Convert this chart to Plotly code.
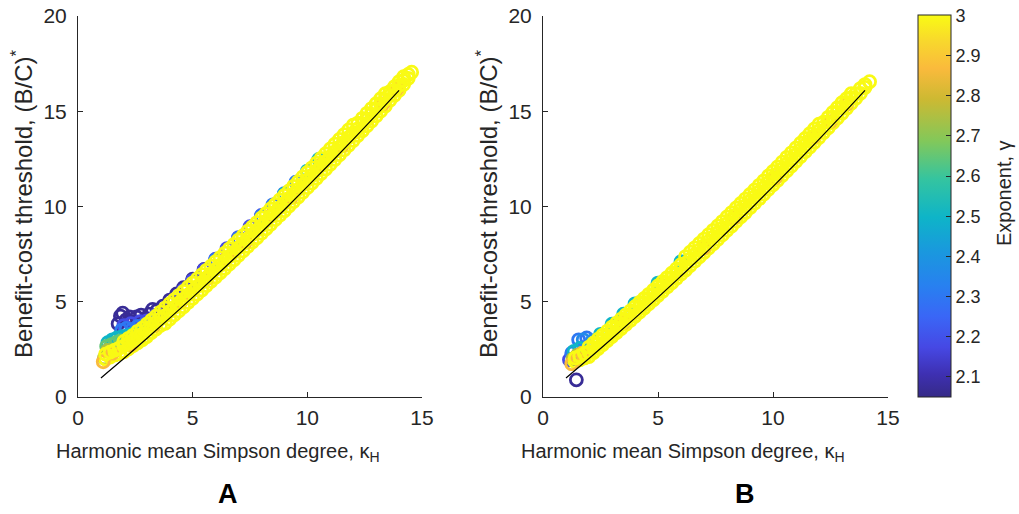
import plotly.graph_objects as go

# ---------------- data ----------------
LINE_X = [1, 2, 3, 4, 5, 6, 7, 8, 9, 10, 11, 12, 13, 14]
LINE_Y = [1.00, 2.02, 3.07, 4.14, 5.23, 6.35, 7.48, 8.65, 9.83, 11.04, 12.27, 13.52, 14.80, 16.10]

# ---- panel A ----
A_PURPLE_X = [1.75, 1.85, 1.95, 2.1, 2.25, 2.4, 2.55, 2.75, 2.95, 3.1, 3.25, 3.45, 3.7, 4.0, 4.3, 4.6, 5.0, 5.5]
A_PURPLE_Y = [3.85, 4.25, 4.4, 4.05, 4.2, 3.95, 4.2, 4.3, 4.1, 4.35, 4.6, 4.55, 4.77, 5.09, 5.41, 5.74, 6.18, 6.7]
A_VIOLET_X = [2.0, 2.3, 2.7, 3.0, 3.4, 3.8, 4.2, 4.6, 5.0, 5.5, 6.0, 6.5, 7.0, 7.5, 8.0]
A_VIOLET_Y = [3.75, 3.85, 3.95, 4.0, 4.3, 4.65, 5.05, 5.62, 6.11, 6.67, 7.23, 7.79, 8.37, 8.94, 9.53]
A_BLUE_X = [1.9, 2.1, 2.35, 2.6, 2.9, 3.2, 3.5, 6.0, 7.0, 8.0, 8.5, 9.0, 9.5]
A_BLUE_Y = [3.5, 3.6, 3.55, 3.7, 3.8, 4.0, 4.25, 7.2, 8.34, 9.5, 10.09, 10.68, 11.28]
A_TEAL_X = [1.3, 1.5, 1.7, 1.9, 2.1, 2.35, 2.6, 9.0, 10.0, 10.5]
A_TEAL_Y = [2.85, 3.0, 3.1, 3.15, 3.2, 3.3, 3.4, 10.65, 11.86, 12.47]
A_GREEN_X = [1.25, 1.45, 1.65, 1.85]
A_GREEN_Y = [2.65, 2.75, 2.85, 2.95]
A_OLIVE_X = [1.15, 1.3]
A_OLIVE_Y = [2.05, 2.45]
A_ORANGE_X = [1.1, 1.5, 2.3, 3.3, 4.5, 5.6, 6.5, 7.3, 8.4, 9.3, 10.6, 11.5, 12.6, 13.3, 13.9]
A_ORANGE_Y = [1.85, 2.3, 2.74, 3.74, 5.03, 6.2, 7.31, 8.13, 9.52, 10.49, 12.18, 13.19, 14.59, 15.39, 16.17]

A_YEL_X = [1.2, 1.4, 1.6, 1.8, 2.0, 2.2, 2.4, 2.6, 2.8, 3.0, 3.2, 3.4, 3.6, 3.8, 4.0, 4.2, 4.4, 4.6, 4.8,
           5.0, 5.2, 5.4, 5.6, 5.8, 6.0, 6.2, 6.4, 6.6, 6.8, 7.0, 7.2, 7.4, 7.6, 7.8, 8.0, 8.2, 8.4, 8.6,
           8.8, 9.0, 9.2, 9.4, 9.6, 9.8, 10.0, 10.2, 10.4, 10.6, 10.8, 11.0, 11.2, 11.4, 11.6, 11.8, 12.0,
           12.2, 12.4, 12.6, 12.8, 13.0, 13.2, 13.4, 13.6, 13.8, 14.0, 14.2, 14.4]
A_YEL_LO = [2.00, 2.10, 2.21, 2.27, 2.37, 2.53, 2.69, 2.85, 3.01, 3.17, 3.38, 3.57, 3.76,
            3.87, 4.09, 4.31, 4.52, 4.74, 4.96, 5.18, 5.40, 5.62, 5.85,
            6.07, 6.30, 6.52, 6.75, 6.98, 7.21, 7.44, 7.67, 7.90, 8.13,
            8.36, 8.60, 8.83, 9.07, 9.31, 9.54, 9.78, 10.02, 10.26, 10.50,
            10.75, 10.99, 11.23, 11.48, 11.73, 11.97, 12.22, 12.47, 12.72, 12.97,
            13.22, 13.47, 13.73, 13.98, 14.24, 14.49, 14.75, 15.01, 15.27, 15.58, 15.84, 16.10, 16.41, 16.73]
A_YEL_MID = [2.25, 2.36, 2.46, 2.57, 2.67, 2.83, 2.99, 3.15, 3.31, 3.52, 3.70, 3.91, 4.11,
             4.27, 4.49, 4.71, 4.92, 5.14, 5.36, 5.58, 5.80, 6.02, 6.25,
             6.47, 6.70, 6.92, 7.15, 7.38, 7.61, 7.84, 8.07, 8.30, 8.53,
             8.76, 9.00, 9.23, 9.47, 9.71, 9.94, 10.18, 10.42, 10.66, 10.90,
             11.15, 11.39, 11.63, 11.88, 12.13, 12.37, 12.62, 12.87, 13.12, 13.37,
             13.62, 13.87, 14.08, 14.33, 14.59, 14.84, 15.10, 15.36, 15.62, 15.83, 16.09, 16.35, 16.61, 16.93]
A_YEL_HI_X = [2.0, 2.2, 2.4, 2.6, 2.8, 3.0, 3.2, 3.4, 3.6, 3.8, 4.0, 4.2, 4.4, 4.6, 4.8,
              5.0, 5.2, 5.4, 5.6, 5.8, 6.0, 6.2, 6.4, 6.6, 6.8, 7.0, 7.2, 7.4, 7.6, 7.8, 8.0, 8.2, 8.4, 8.6,
              8.8, 9.0, 9.2, 9.4, 9.6, 9.8, 10.0, 10.2, 10.4, 10.6, 10.8, 11.0, 11.2, 11.4, 11.6, 11.8, 12.0,
              12.2, 12.4, 12.6, 12.8, 13.0, 13.2, 13.4, 13.6, 13.8, 14.0, 14.2]
A_YEL_HI = [2.92, 3.08, 3.24, 3.45, 3.61, 3.82, 4.03, 4.24, 4.46,
            4.67, 4.89, 5.11, 5.32, 5.54, 5.76, 5.98, 6.20, 6.42, 6.65,
            6.87, 7.10, 7.32, 7.55, 7.78, 8.01, 8.24, 8.47, 8.70, 8.93,
            9.16, 9.40, 9.63, 9.87, 10.11, 10.34, 10.58, 10.82, 11.06, 11.30,
            11.55, 11.79, 12.03, 12.28, 12.53, 12.77, 13.02, 13.27, 13.52, 13.77,
            14.02, 14.27, 14.38, 14.63, 14.89, 15.14, 15.40, 15.66, 15.92, 16.03, 16.29, 16.55, 16.81]
A_YEL_END_X = [14.55]
A_YEL_END_Y = [17.05]

# ---- panel B ----
B_PURPLE_X = [1.45]
B_PURPLE_Y = [0.9]
B_VIOLET_X = [1.15]
B_VIOLET_Y = [1.95]
B_BLUE_X = [1.25, 1.55, 1.9]
B_BLUE_Y = [2.3, 3.0, 3.1]
B_BLUE2_X = [1.75, 2.15]
B_BLUE2_Y = [3.0, 2.95]
B_TEAL_X = [1.35, 1.6, 2.5, 3.0, 3.5, 4.0, 5.0, 6.0]
B_TEAL_Y = [2.4, 2.55, 3.29, 3.82, 4.35, 4.89, 5.98, 7.1]
B_OLIVE_X = [1.3, 1.5]
B_OLIVE_Y = [2.0, 2.2]
B_ORANGE_X = [1.25, 1.45, 1.7, 3.5, 5.2, 7.0, 8.3, 10.1, 11.8, 12.5, 13.2]
B_ORANGE_Y = [1.75, 2.05, 2.3, 3.9, 5.85, 7.84, 9.4, 11.51, 13.67, 14.46, 15.36]

B_YEL_X = [1.4, 1.6, 1.8, 2.0, 2.2, 2.4, 2.6, 2.8, 3.0, 3.2, 3.4, 3.6, 3.8, 4.0, 4.2, 4.4, 4.6, 4.8,
           5.0, 5.2, 5.4, 5.6, 5.8, 6.0, 6.2, 6.4, 6.6, 6.8, 7.0, 7.2, 7.4, 7.6, 7.8, 8.0, 8.2, 8.4, 8.6,
           8.8, 9.0, 9.2, 9.4, 9.6, 9.8, 10.0, 10.2, 10.4, 10.6, 10.8, 11.0, 11.2, 11.4, 11.6, 11.8, 12.0,
           12.2, 12.4, 12.6, 12.8, 13.0, 13.2, 13.4, 13.6, 13.8, 14.0]
B_YEL_LO = [1.85, 1.95, 2.05, 2.12, 2.33, 2.54, 2.75, 2.96, 3.17, 3.38, 3.59, 3.81, 4.02, 4.24, 4.46,
            4.67, 4.89, 5.11, 5.33, 5.55, 5.77, 6.00, 6.22, 6.45,
            6.67, 6.90, 7.13, 7.36, 7.59, 7.82, 8.05, 8.28, 8.51, 8.75, 8.98, 9.22, 9.46, 9.69, 9.93,
            10.17, 10.41, 10.65, 10.90, 11.14, 11.38, 11.63, 11.88, 12.12, 12.37, 12.62, 12.87, 13.12,
            13.37, 13.62, 13.88, 14.13, 14.39, 14.64, 14.90, 15.16, 15.42, 15.68, 15.94, 16.25]
B_YEL_MID = [2.05, 2.15, 2.28, 2.37, 2.58, 2.79, 3.00, 3.21, 3.42, 3.63, 3.84, 4.06, 4.27, 4.49, 4.71,
             4.92, 5.14, 5.36, 5.58, 5.80, 6.02, 6.25, 6.47, 6.70,
             7.02, 7.25, 7.48, 7.71, 7.94, 8.17, 8.40, 8.63, 8.86, 9.10, 9.33, 9.57, 9.81, 10.04, 10.28,
             10.52, 10.76, 11.00, 11.25, 11.49, 11.73, 11.98, 12.23, 12.47, 12.72, 12.97, 13.22, 13.47,
             13.72, 13.97, 14.18, 14.43, 14.69, 14.94, 15.20, 15.46, 15.72, 15.93, 16.19, 16.40]
B_YEL_HI_X = [2.0, 2.2, 2.4, 2.6, 2.8, 3.0, 3.2, 3.4, 3.6, 3.8, 4.0, 4.2, 4.4, 4.6, 4.8,
              5.0, 5.2, 5.4, 5.6, 5.8, 6.0, 6.2, 6.4, 6.6, 6.8, 7.0, 7.2, 7.4, 7.6, 7.8, 8.0, 8.2, 8.4, 8.6,
              8.8, 9.0, 9.2, 9.4, 9.6, 9.8, 10.0, 10.2, 10.4, 10.6, 10.8, 11.0, 11.2, 11.4, 11.6, 11.8, 12.0,
              12.2, 12.4, 12.6, 12.8, 13.0, 13.2, 13.4]
B_YEL_HI = [2.62, 2.83, 3.04, 3.25, 3.46, 3.67, 3.88, 4.09, 4.31, 4.52, 4.74, 4.96, 5.17, 5.39, 5.61,
            5.83, 6.05, 6.27, 6.50, 6.72, 6.95,
            7.37, 7.60, 7.83, 8.06, 8.29, 8.52, 8.75, 8.98, 9.21, 9.45, 9.68, 9.92, 10.16, 10.39, 10.63,
            10.87, 11.11, 11.35, 11.60, 11.84, 12.08, 12.33, 12.58, 12.82, 13.07, 13.32, 13.57, 13.82,
            14.07, 14.32, 14.43, 14.68, 14.94, 15.19, 15.45, 15.66, 15.92]
B_YEL_END_X = [14.2]
B_YEL_END_Y = [16.55]

# gamma (exponent) per group
G = {"purple": 2.07, "violet": 2.18, "blue": 2.30, "blue2": 2.36, "teal": 2.50,
     "green": 2.65, "olive": 2.75, "orange": 2.87, "yellow": 3.0}

CB_TICKS = [2.1, 2.2, 2.3, 2.4, 2.5, 2.6, 2.7, 2.8, 2.9, 3.0]
CB_TEXT = ["2.1", "2.2", "2.3", "2.4", "2.5", "2.6", "2.7", "2.8", "2.9", "3"]

# ---------------- figure ----------------
W, H = 1019, 514
FONT = "Liberation Sans, Arial, Helvetica, sans-serif"
TXT = "#262626"

PARULA = [
    [0.00, "rgb(53,42,135)"],
    [0.06, "rgb(62,48,178)"],
    [0.13, "rgb(70,72,228)"],
    [0.21, "rgb(58,102,246)"],
    [0.29, "rgb(40,128,240)"],
    [0.38, "rgb(26,152,222)"],
    [0.47, "rgb(14,180,200)"],
    [0.57, "rgb(52,196,160)"],
    [0.67, "rgb(130,200,90)"],
    [0.78, "rgb(205,185,50)"],
    [0.86, "rgb(250,186,60)"],
    [0.93, "rgb(248,215,45)"],
    [1.00, "rgb(249,251,20)"],
]

for a in [(A_YEL_X, A_YEL_LO), (A_YEL_X, A_YEL_MID), (A_YEL_HI_X, A_YEL_HI),
          (B_YEL_X, B_YEL_LO), (B_YEL_X, B_YEL_MID), (B_YEL_HI_X, B_YEL_HI)]:
    assert len(a[0]) == len(a[1]), (len(a[0]), len(a[1]))

fig = go.Figure()


def add_group(xs, ys, g, ax):
    fig.add_trace(go.Scatter(
        x=xs, y=ys, mode="markers", xaxis="x" + ax, yaxis="y" + ax,
        marker=dict(symbol="circle-open", size=12, color=[g] * len(xs),
                    coloraxis="coloraxis", line=dict(width=2.8)),
        showlegend=False, hoverinfo="skip"))


A_GROUPS = [
    (A_PURPLE_X, A_PURPLE_Y, G["purple"]), (A_VIOLET_X, A_VIOLET_Y, G["violet"]),
    (A_BLUE_X, A_BLUE_Y, G["blue"]), (A_TEAL_X, A_TEAL_Y, G["teal"]),
    (A_GREEN_X, A_GREEN_Y, G["green"]), (A_OLIVE_X, A_OLIVE_Y, G["olive"]),
    (A_YEL_X, A_YEL_LO, G["yellow"]), (A_ORANGE_X, A_ORANGE_Y, G["orange"]),
    (A_YEL_HI_X, A_YEL_HI, G["yellow"]),
    (A_YEL_X, A_YEL_MID, G["yellow"]), (A_YEL_END_X, A_YEL_END_Y, G["yellow"]),
]
B_GROUPS = [
    (B_PURPLE_X, B_PURPLE_Y, G["purple"]), (B_VIOLET_X, B_VIOLET_Y, G["violet"]),
    (B_BLUE_X, B_BLUE_Y, G["blue"]), (B_BLUE2_X, B_BLUE2_Y, G["blue2"]),
    (B_TEAL_X, B_TEAL_Y, G["teal"]), (B_OLIVE_X, B_OLIVE_Y, G["olive"]),
    (B_YEL_X, B_YEL_LO, G["yellow"]), (B_ORANGE_X, B_ORANGE_Y, G["orange"]),
    (B_YEL_HI_X, B_YEL_HI, G["yellow"]),
    (B_YEL_X, B_YEL_MID, G["yellow"]), (B_YEL_END_X, B_YEL_END_Y, G["yellow"]),
]
for xs, ys, g in A_GROUPS:
    add_group(xs, ys, g, "")
for xs, ys, g in B_GROUPS:
    add_group(xs, ys, g, "2")

for ax in ["", "2"]:
    fig.add_trace(go.Scatter(x=LINE_X, y=LINE_Y, mode="lines", xaxis="x" + ax, yaxis="y" + ax,
                             line=dict(color="black", width=1.2, shape="spline"),
                             showlegend=False, hoverinfo="skip"))


def px_x(p):
    return p / W


def px_y(p):
    return 1 - p / H


axis_common = dict(showline=True, linecolor=TXT, linewidth=1, ticks="inside", ticklen=5,
                   tickcolor=TXT, tickwidth=1, showgrid=False, zeroline=False, mirror=False,
                   tickfont=dict(family=FONT, size=21, color=TXT), fixedrange=True, automargin=False)

fig.update_layout(
    width=W, height=H, margin=dict(l=0, r=0, t=0, b=0, autoexpand=False),
    paper_bgcolor="white", plot_bgcolor="white",
    xaxis=dict(domain=[px_x(78), px_x(422)], range=[0, 15], tickvals=[0, 5, 10, 15],
               anchor="y", ticklabelstandoff=2, **axis_common),
    yaxis=dict(domain=[px_y(397), px_y(16)], range=[0, 20], tickvals=[0, 5, 10, 15, 20],
               anchor="x", ticklabelstandoff=6, **axis_common),
    xaxis2=dict(domain=[px_x(543), px_x(888)], range=[0, 15], tickvals=[0, 5, 10, 15],
                anchor="y2", ticklabelstandoff=2, **axis_common),
    yaxis2=dict(domain=[px_y(397), px_y(16)], range=[0, 20], tickvals=[0, 5, 10, 15, 20],
                anchor="x2", ticklabelstandoff=6, **axis_common),
    coloraxis=dict(
        colorscale=PARULA, cmin=2.05, cmax=3.001,
        colorbar=dict(x=px_x(918), xanchor="left", y=px_y(397), yanchor="bottom",
                      len=382, lenmode="pixels", thickness=33, thicknessmode="pixels",
                      xpad=0, ypad=0, outlinewidth=1, outlinecolor=TXT,
                      ticks="inside", ticklen=5, tickcolor=TXT,
                      tickvals=CB_TICKS, ticktext=CB_TEXT,
                      tickfont=dict(family=FONT, size=18, color=TXT)),
    ),
)

ann_font = dict(family=FONT, size=20, color=TXT)
ytitle_font = dict(family=FONT, size=24, color=TXT)
annotations = [
    dict(text="Harmonic mean Simpson degree, κ<sub>H</sub>", x=px_x(218), y=px_y(452),
         xref="paper", yref="paper", showarrow=False, font=ann_font, xanchor="center", yanchor="middle"),
    dict(text="Harmonic mean Simpson degree, κ<sub>H</sub>", x=px_x(683), y=px_y(452),
         xref="paper", yref="paper", showarrow=False, font=ann_font, xanchor="center", yanchor="middle"),
    dict(text="Benefit-cost threshold, (B/C)<sup>*</sup>", x=px_x(22), y=px_y(204),
         xref="paper", yref="paper", showarrow=False, font=ytitle_font, textangle=-90,
         xanchor="center", yanchor="middle"),
    dict(text="Benefit-cost threshold, (B/C)<sup>*</sup>", x=px_x(487), y=px_y(204),
         xref="paper", yref="paper", showarrow=False, font=ytitle_font, textangle=-90,
         xanchor="center", yanchor="middle"),
    dict(text="Exponent, γ", x=px_x(1004), y=px_y(193),
         xref="paper", yref="paper", showarrow=False, font=ann_font, textangle=-90,
         xanchor="center", yanchor="middle"),
    dict(text="<b>A</b>", x=px_x(228), y=px_y(494), xref="paper", yref="paper", showarrow=False,
         font=dict(family=FONT, size=27, color="black"), xanchor="center", yanchor="middle"),
    dict(text="<b>B</b>", x=px_x(745), y=px_y(494), xref="paper", yref="paper", showarrow=False,
         font=dict(family=FONT, size=27, color="black"), xanchor="center", yanchor="middle"),
]
fig.update_layout(annotations=annotations)

fig.write_html("out.html", config={"displayModeBar": False},
               post_script="document.body.style.margin='0';")
